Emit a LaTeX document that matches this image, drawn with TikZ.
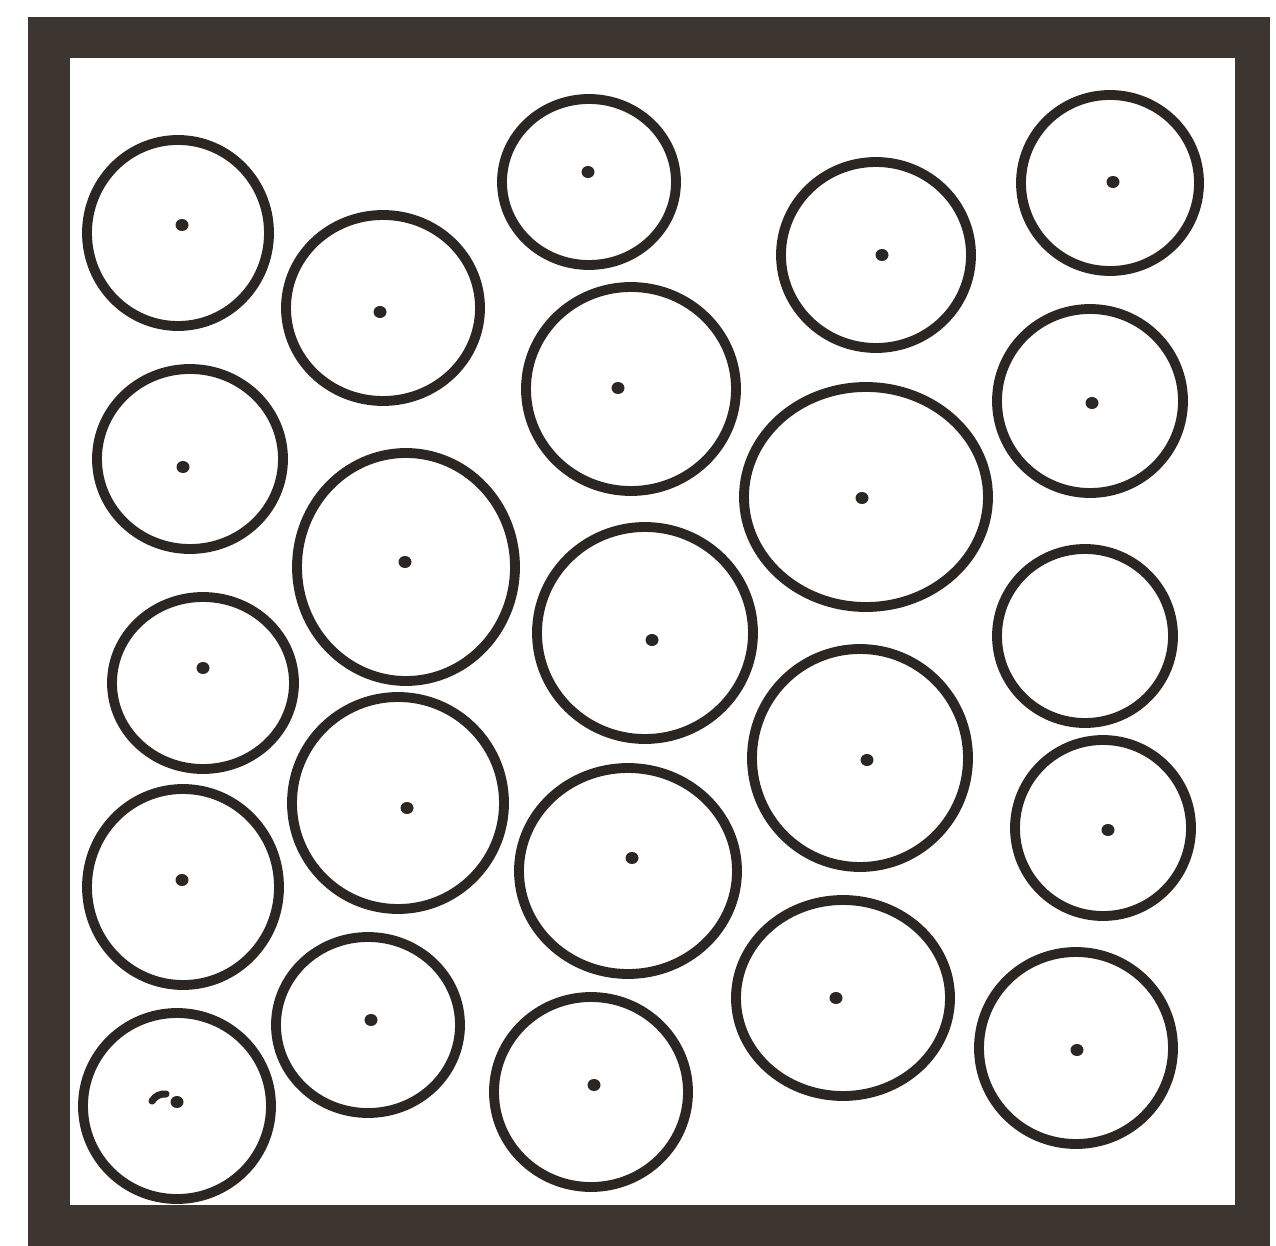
\documentclass[tikz,border=0pt]{standalone}
\usepackage{tikz}
\definecolor{frameink}{HTML}{3D3530}
\definecolor{cellink}{HTML}{2B2622}
\tikzset{
  cellring/.style={draw=cellink,line width=2.8pt},
  celldot/.style={fill=cellink},
}

\begin{document}
\begin{tikzpicture}[x=0.01cm,y=0.01cm]
\useasboundingbox (0,0) rectangle (1276,-1246);
 % heavy frame
\fill[frameink] (28,-17) rectangle (1270,-1246);
\fill[white] (70,-58) rectangle (1235,-1205);
 % cells: centre x/y, outer radii, dot x/y
\foreach \cx/\cy/\rx/\ry/\dx/\dy in {
  178/233/95/97/182/225, 383/308/101/97/380/312, 589/182/91/87/588/172,
  876/255/99/97/882/255, 1110/183/93/92/1113/182, 631/389/109/106/618/388,
  1090/401/97/96/1092/403, 190/459/97/94/183/467, 406/567/113/118/405/562,
  866/497/126/114/862/498, 645/633/112/110/652/640, 203/683/95/90/203/668,
  398/803/110/110/407/808, 860/758/112/113/867/760, 183/887/100/102/182/880,
  628/871/113/107/632/858, 1103/828/92/92/1108/830, 368/1025/96/92/371/1020,
  843/998/111/102/836/998, 1076/1048/101/100/1077/1050, 177/1106/98/97/177/1102,
  591/1092/101/99/594/1085}
{
  \draw[cellring] (\cx,-\cy) ellipse [x radius=\rx-4, y radius=\ry-4];
  \fill[celldot] (\dx,-\dy) ellipse [x radius=6.5, y radius=6];
}
 % the one cell without a dot
\draw[cellring] (1085,-636) ellipse [x radius=88, y radius=87];
\draw[cellink,line width=2pt,line cap=round] (152,-1101) to[bend left=30] (166,-1094);
\end{tikzpicture}
\end{document}
